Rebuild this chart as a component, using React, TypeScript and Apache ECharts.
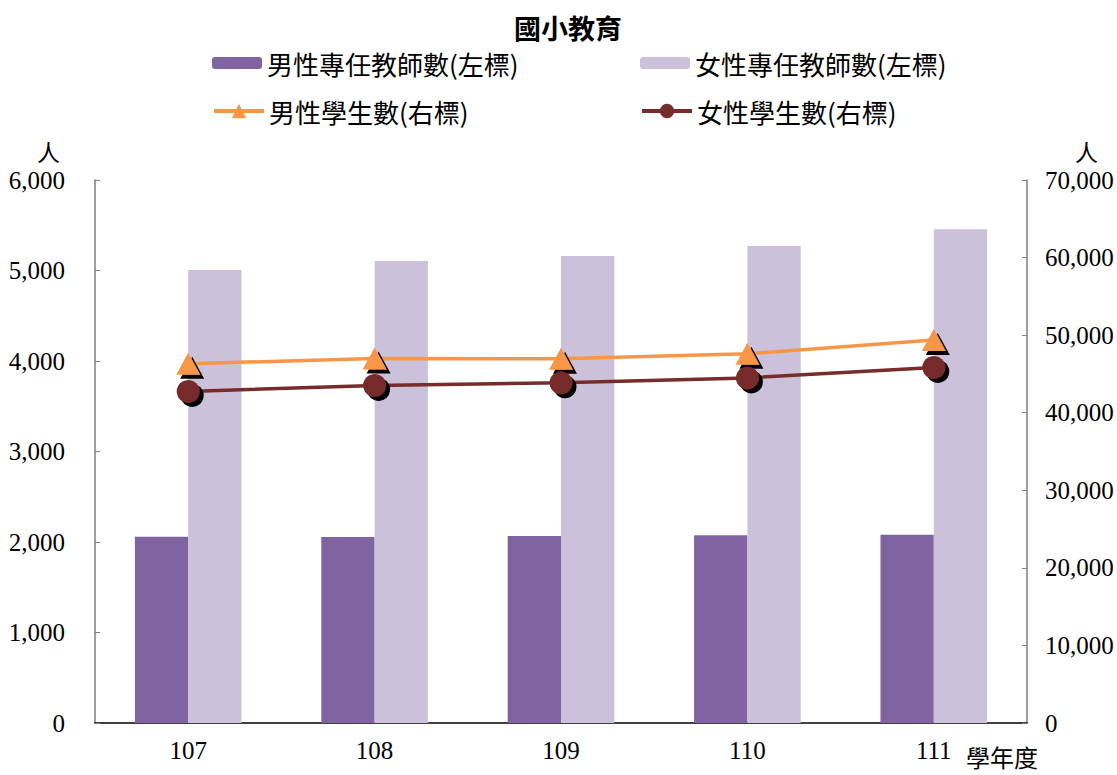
import React, { useEffect, useRef } from "react";
import * as echarts from "echarts";

const categories = ["107", "108", "109", "110", "111"];
const maleTeachers = [2058, 2055, 2067, 2075, 2080];
const femaleTeachers = [5006, 5105, 5160, 5270, 5455];
const maleStudents = [46300, 47000, 46950, 47600, 49380];
const femaleStudents = [42750, 43520, 43850, 44490, 45840];
const leftTicks = { min: 0, max: 6000, interval: 1000 };
const rightTicks = { min: 0, max: 70000, interval: 10000 };

const seriesNames = [
  "男性專任教師數(左標)",
  "女性專任教師數(左標)",
  "男性學生數(右標)",
  "女性學生數(右標)",
];

const serif = "'Liberation Serif', 'Times New Roman', 'Noto Sans CJK TC', serif";
const cjk = "'Noto Sans CJK TC', 'Liberation Serif', serif";

const fmt = (v: number) => v.toLocaleString("en-US");

export default function App() {
  const ref = useRef<HTMLDivElement>(null);
  useEffect(() => {
    if (!ref.current) return;
    const chart = echarts.init(ref.current, undefined, { renderer: "svg" });
    const legendText = { fontFamily: cjk, fontSize: 26, color: "#000" };
    const mkLegend = (name: string, left: number, top: number, isLine: boolean) => ({
      data: [name],
      left,
      top,
      orient: "horizontal",
      itemWidth: 50,
      itemHeight: isLine ? 18 : 12,
      itemGap: 6,
      selectedMode: false,
      textStyle: legendText,
      padding: 0,
      lineStyle: { width: 4 },
    });
    const shadow = {
      shadowColor: "#000",
      shadowBlur: 0,
      shadowOffsetX: 4,
      shadowOffsetY: 4,
    };
    chart.setOption({
      animation: false,
      backgroundColor: "#fff",
      title: {
        text: "國小教育",
        left: 563,
        textAlign: "center",
        top: 9,
        textStyle: { fontFamily: cjk, fontSize: 27, fontWeight: "bold", color: "#000" },
      },
      legend: [
        mkLegend(seriesNames[0], 212, 50, false),
        mkLegend(seriesNames[1], 640, 50, false),
        mkLegend(seriesNames[2], 212, 98, true),
        mkLegend(seriesNames[3], 640, 98, true),
      ],
      grid: { left: 95, right: 90, top: 180, bottom: 52, containLabel: false },
      xAxis: {
        type: "category",
        data: categories,
        axisLine: { show: true, lineStyle: { color: "#000", width: 1.5 } },
        axisTick: { show: false },
        axisLabel: { fontFamily: serif, fontSize: 25, color: "#000", margin: 15 },
        splitLine: { show: false },
      },
      yAxis: [
        {
          type: "value",
          position: "left",
          min: leftTicks.min,
          max: leftTicks.max,
          interval: leftTicks.interval,
          axisLine: { show: true, lineStyle: { color: "#7f7f7f", width: 1.5 } },
          axisTick: { show: true, inside: true, length: 5, lineStyle: { color: "#7f7f7f" } },
          axisLabel: { fontFamily: serif, fontSize: 25, color: "#000", margin: 30, formatter: fmt },
          splitLine: { show: false },
        },
        {
          type: "value",
          position: "right",
          min: rightTicks.min,
          max: rightTicks.max,
          interval: rightTicks.interval,
          axisLine: { show: true, lineStyle: { color: "#7f7f7f", width: 1.5 } },
          axisTick: { show: true, inside: true, length: 5, lineStyle: { color: "#7f7f7f" } },
          axisLabel: { fontFamily: serif, fontSize: 25, color: "#000", margin: 18, formatter: fmt },
          splitLine: { show: false },
        },
      ],
      graphic: [
        {
          type: "text",
          left: 37,
          top: 139,
          style: { text: "人", font: "23px 'Noto Sans CJK TC'", fill: "#000" },
        },
        {
          type: "text",
          left: 1075,
          top: 139,
          style: { text: "人", font: "23px 'Noto Sans CJK TC'", fill: "#000" },
        },
        {
          type: "text",
          left: 966,
          top: 744,
          style: { text: "學年度", font: "24px 'Noto Sans CJK TC'", fill: "#000" },
        },
      ],
      series: [
        {
          name: seriesNames[0],
          type: "bar",
          yAxisIndex: 0,
          data: maleTeachers,
          barWidth: "28.6%",
          barGap: "0%",
          itemStyle: { color: "#8064A2" },
        },
        {
          name: seriesNames[1],
          type: "bar",
          yAxisIndex: 0,
          data: femaleTeachers,
          barWidth: "28.6%",
          barGap: "0%",
          itemStyle: { color: "#CCC1DA" },
        },
        {
          name: seriesNames[2],
          type: "line",
          yAxisIndex: 1,
          data: maleStudents,
          symbol: "triangle",
          symbolSize: [24, 22],
          lineStyle: { color: "#F79646", width: 3.5 },
          itemStyle: { color: "#F79646", ...shadow },
          z: 5,
        },
        {
          name: seriesNames[3],
          type: "line",
          yAxisIndex: 1,
          data: femaleStudents,
          symbol: "circle",
          symbolSize: 23,
          lineStyle: { color: "#772C2A", width: 3.5 },
          itemStyle: { color: "#772C2A", ...shadow },
          z: 5,
        },
      ],
    });
    return () => chart.dispose();
  }, []);
  return (
    <div
      ref={ref}
      style={{ position: "fixed", left: 0, top: 0, width: 1117, height: 775 }}
    />
  );
}
